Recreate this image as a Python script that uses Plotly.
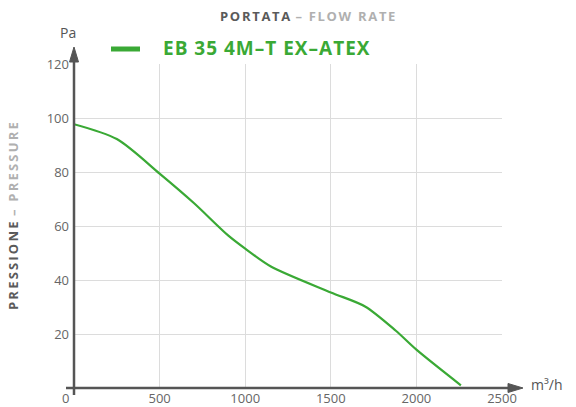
import plotly.graph_objects as go

# Data
flow = [0, 250, 500, 700, 900, 1000, 1150, 1500, 1700, 1880, 2000, 2260]
pressure = [97.7, 92.2, 79.4, 68.5, 56.5, 51.6, 45.0, 35.4, 30.2, 21.2, 14.2, 1.0]
x_ticks = [500, 1000, 1500, 2000, 2500]
y_ticks = [20, 40, 60, 80, 100, 120]
series_name = "EB 35 4M–T EX–ATEX"

W, H = 576, 407
L, R, T, B = 74, 74, 64, 19
PW, PH = W - L - R, H - T - B

def px(x):
    return (x - L) / PW

def py(y):
    return (H - B - y) / PH

GREEN = "#3aa935"
AX = "#555555"
FONT = "Open Sans"

fig = go.Figure()
fig.add_trace(go.Scatter(
    x=flow, y=pressure, mode="lines",
    line=dict(color=GREEN, width=2.2, shape="spline", smoothing=0.8),
    name=series_name, showlegend=False, hoverinfo="skip",
))

shapes = [
    # x axis line
    dict(type="line", xref="paper", yref="paper", x0=px(66), x1=px(512), y0=py(388), y1=py(388),
         line=dict(color=AX, width=2.5)),
    # y axis line
    dict(type="line", xref="paper", yref="paper", x0=px(74), x1=px(74), y0=py(395), y1=py(58),
         line=dict(color=AX, width=2.5)),
    # x arrow head
    dict(type="path", xref="paper", yref="paper",
         path=f"M {px(508)},{py(383.5)} L {px(523)},{py(388)} L {px(508)},{py(392.5)} Z",
         fillcolor=AX, line=dict(color=AX, width=1)),
    # y arrow head
    dict(type="path", xref="paper", yref="paper",
         path=f"M {px(69.5)},{py(62)} L {px(74)},{py(47)} L {px(78.5)},{py(62)} Z",
         fillcolor=AX, line=dict(color=AX, width=1)),
    # legend swatch
    dict(type="line", xref="paper", yref="paper", x0=px(111), x1=px(140), y0=py(49), y1=py(49),
         line=dict(color=GREEN, width=5)),
]

annotations = [
    dict(text="<b><span style='color:#5a5a5a;letter-spacing:1.7px'>PORTATA</span> "
              "<span style='color:#b0b0b0;letter-spacing:1.7px'>– FLOW RATE</span></b>",
         xref="paper", yref="paper", x=px(308), y=py(16), showarrow=False,
         font=dict(family=FONT, size=13), xanchor="center", yanchor="middle"),
    dict(text="<b><span style='color:#5a5a5a;letter-spacing:2.2px'>PRESSIONE</span> "
              "<span style='color:#b0b0b0;letter-spacing:2.2px'>– PRESSURE</span></b>",
         xref="paper", yref="paper", x=px(13), y=py(215), showarrow=False, textangle=-90,
         font=dict(family=FONT, size=13), xanchor="center", yanchor="middle"),
    dict(text="Pa", xref="paper", yref="paper", x=px(68), y=py(32), showarrow=False,
         font=dict(family=FONT, size=14, color="#555"), xanchor="center", yanchor="middle"),
    dict(text="m³/h", xref="paper", yref="paper", x=px(547), y=py(384), showarrow=False,
         font=dict(family=FONT, size=14, color="#555"), xanchor="center", yanchor="middle"),
    dict(text="0", xref="paper", yref="paper", x=px(65), y=py(398), showarrow=False,
         font=dict(family=FONT, size=13, color="#666"), xanchor="center", yanchor="middle"),
    dict(text=f"<b><span style='letter-spacing:1px'>{series_name}</span></b>",
         xref="paper", yref="paper", x=px(161), y=py(48.5), showarrow=False,
         font=dict(family=FONT, size=19, color=GREEN), xanchor="left", yanchor="middle"),
]

fig.update_layout(
    width=W, height=H,
    margin=dict(l=L, r=R, t=T, b=B, autoexpand=False),
    paper_bgcolor="white", plot_bgcolor="white",
    shapes=shapes, annotations=annotations,
    xaxis=dict(range=[0, 2500], tickvals=x_ticks, ticktext=[str(v) for v in x_ticks],
               showgrid=True, gridcolor="#dcdcdc", gridwidth=1, zeroline=False, showline=False,
               ticks="", tickfont=dict(family=FONT, size=13, color="#666"), automargin=False,
               ticklabelstandoff=1),
    yaxis=dict(range=[0, 120], tickvals=y_ticks, ticktext=[str(v) for v in y_ticks],
               showgrid=True, gridcolor="#dcdcdc", gridwidth=1, zeroline=False, showline=False,
               ticks="", tickfont=dict(family=FONT, size=13, color="#666"), automargin=False,
               ticklabelstandoff=4),
    showlegend=False,
)

fig.write_html("out.html", config={"displayModeBar": False},
               post_script="document.body.style.margin='0';document.body.style.overflow='hidden';")
